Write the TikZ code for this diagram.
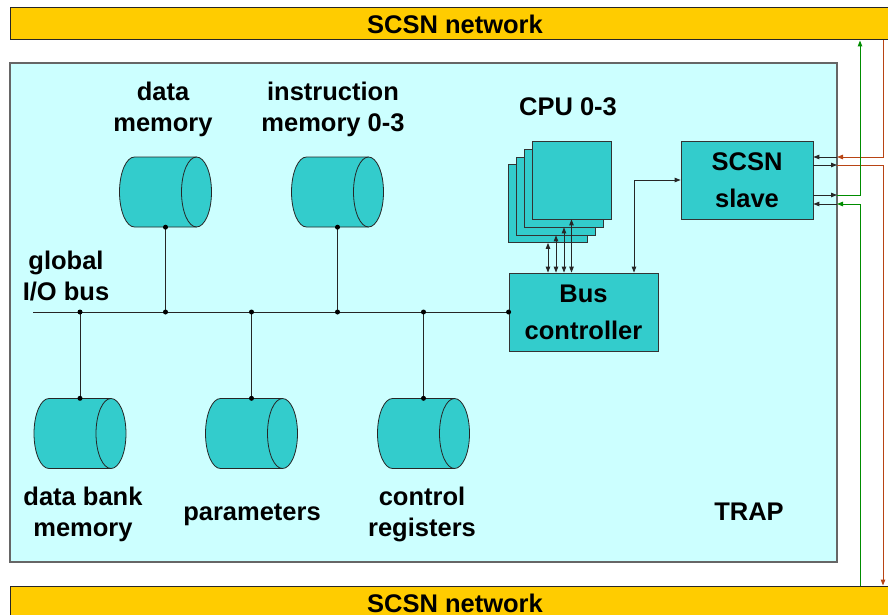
\documentclass[tikz,border=0pt]{standalone}
\usepackage{fontspec}
\setmainfont{Liberation Sans}
\usetikzlibrary{arrows.meta}
\definecolor{netyellow}{RGB}{255,204,0}
\definecolor{trapbg}{RGB}{204,255,255}
\definecolor{unitteal}{RGB}{51,204,204}
\definecolor{linkbrown}{RGB}{184,68,20}
\definecolor{linkgreen}{RGB}{0,140,0}

% horizontal drum (storage) with its open end on the right
\newcommand\drumat[3]{%
  \node[drum] (#1) at (#2,#3) {};
  \fill[unitteal] (#2+31,#3-35) -- (#2-31,#3-35)
     arc[start angle=90,end angle=270,x radius=15pt,y radius=35pt]
     -- (#2+31,#3+35)
     arc[start angle=270,end angle=450,x radius=15pt,y radius=35pt] -- cycle;
  \draw[drumline] (#2+31,#3-35) -- (#2-31,#3-35)
     arc[start angle=90,end angle=270,x radius=15pt,y radius=35pt]
     -- (#2+31,#3+35);
  \draw[drumline] (#2+31,#3) ellipse[x radius=15pt,y radius=35pt];
}

\begin{document}
\begin{tikzpicture}[x=1pt,y=-1pt,
  font=\fontsize{25.5}{31}\selectfont\bfseries,
  every node/.style={inner sep=0pt},
  netbar/.style={fill=netyellow, draw=black!85, line width=1pt,
                 minimum width=890pt, minimum height=32pt},
  trapbox/.style={fill=trapbg, draw=black!60, line width=1.2pt},
  unit/.style={fill=unitteal, draw=black!80, line width=0.8pt},
  boxlabel/.style={align=center, font=\fontsize{25.5}{37}\selectfont\bfseries},
  lbl/.style={align=center},
  drum/.style={minimum width=93pt, minimum height=70pt},
  drumline/.style={black!85, line width=0.8pt},
  wire/.style={line width=1pt, black!85},
  brownwire/.style={line width=1pt, linkbrown},
  greenwire/.style={line width=1pt, linkgreen},
  onehead/.style={-{Triangle[length=6pt,width=4.5pt]}},
  twohead/.style={{Triangle[length=6pt,width=4.5pt]}-{Triangle[length=6pt,width=4.5pt]}},
  dot/.style={circle, fill=black, inner sep=0pt, minimum size=5pt},
]
\useasboundingbox (0,0) rectangle (888,615);
\clip (0,0) rectangle (888,615);

% network bars
\node[netbar] (topnet) at (455,24) {SCSN network};
\node[netbar, minimum height=34pt] (botnet) at (455,603) {SCSN network};

% TRAP chip outline
\node[trapbox, minimum width=827pt, minimum height=499pt] (trap) at (423.5,312.5) {};
\node (traplbl) at (749,512) {TRAP};

% storage drums
\drumat{dmem}{165.5}{192}
\drumat{imem}{337.5}{192}
\drumat{dbank}{80}{433.5}
\drumat{param}{251.5}{433.5}
\drumat{creg}{423.5}{433.5}

\node[lbl] (dmemlbl) at (163,109) {data\\memory};
\node[lbl] (imemlbl) at (333,109) {instruction\\memory 0-3};
\node[lbl] (dbanklbl) at (83,514) {data bank\\memory};
\node[lbl] (paramlbl) at (252,515) {parameters};
\node[lbl] (creglbl) at (422,514) {control\\registers};
\node[lbl] (buslbl) at (66,276) {global\\I/O bus};

% CPU stack
\node[unit, minimum width=79pt, minimum height=78pt] (cpu3) at (548,203.5) {};
\node[unit, minimum width=79pt, minimum height=78pt] (cpu2) at (556,196) {};
\node[unit, minimum width=79pt, minimum height=78pt] (cpu1) at (564,188) {};
\node[unit, minimum width=79pt, minimum height=78pt] (cpu0) at (571.5,180) {};
\node (cpulbl) at (568,107) {CPU 0-3};

% bus controller and SCSN slave
\node[unit, boxlabel, minimum width=149pt, minimum height=78pt] (bc) at (583.5,312) {Bus\\controller};
\node[unit, boxlabel, minimum width=132pt, minimum height=78pt] (slave) at (747,180) {SCSN\\slave};

% global I/O bus
\coordinate (busL) at (33,312);
\draw[wire] (busL) -- (bc.west);
\foreach \d in {dmem,imem} {
  \draw[wire] (\d.south) -- (\d.south |- busL);
  \node[dot] at (\d.south) {};
  \node[dot] at (\d.south |- busL) {};
}
\foreach \d in {dbank,param,creg} {
  \draw[wire] (\d.north) -- (\d.north |- busL);
  \node[dot] at (\d.north) {};
  \node[dot] at (\d.north |- busL) {};
}
\node[dot] at (bc.west) {};

% CPU <-> bus controller
\foreach \n in {0,1,2,3}
  \draw[wire, twohead] (cpu\n.south) -- (cpu\n.south |- bc.north);

% bus controller <-> SCSN slave
\draw[wire, twohead] (slave.west) -| ([xshift=50.5pt]bc.north);

% SCSN ring links through the chip edge
\coordinate (pinA) at (837,157);
\coordinate (pinB) at (837,165);
\coordinate (pinC) at (837,195);
\coordinate (pinD) at (837,204);
\coordinate (bx) at (883,0);
\coordinate (gx) at (860,0);

\draw[brownwire, onehead] (topnet.south -| bx) |- (pinA);
\draw[wire, onehead] (pinA) -- (pinA -| slave.east);
\draw[wire, onehead] (pinB -| slave.east) -- (pinB);
\draw[brownwire, onehead] (pinB) -| (botnet.north -| bx);

\draw[wire, onehead] (pinC -| slave.east) -- (pinC);
\draw[greenwire, onehead] (pinC) -| (topnet.south -| gx);
\draw[greenwire, onehead] (botnet.north -| gx) |- (pinD);
\draw[wire, onehead] (pinD) -- (pinD -| slave.east);
\end{tikzpicture}
\end{document}
